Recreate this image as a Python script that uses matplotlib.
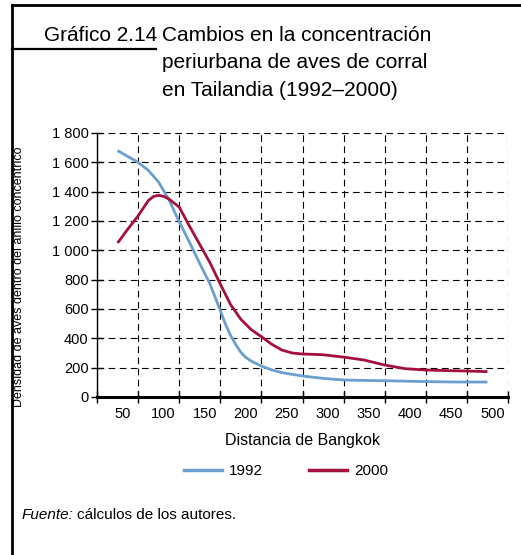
import matplotlib
matplotlib.use('Agg')
import matplotlib.pyplot as plt
from matplotlib.lines import Line2D
from matplotlib.transforms import ScaledTranslation

plt.rcParams['font.family'] = ['Liberation Sans', 'DejaVu Sans']

# distancia de Bangkok (km) y densidad de aves
dist_1992 = [50, 62.5, 75, 87.5, 100, 112.5, 125, 137.5, 150, 162.5, 175, 181, 187.5,
             194, 200, 206, 212.5, 225, 237.5, 250, 275, 300, 325, 350, 375, 400,
             425, 450, 475, 500]
dens_1992 = [1680, 1640, 1600, 1545, 1465, 1345, 1195, 1055, 910, 770, 590, 500, 420,
             355, 305, 270, 245, 211, 185, 166, 143, 127, 116, 113, 111, 108,
             105, 103, 102, 102]

dist_2000 = [50, 62.5, 75, 87.5, 94, 100, 106, 112.5, 125, 137.5, 150, 162.5, 175,
             187.5, 200, 212.5, 225, 237.5, 250, 262.5, 275, 287.5, 300, 325, 350,
             375, 400, 425, 450, 475, 500]
dens_2000 = [1050, 1145, 1235, 1340, 1368, 1375, 1368, 1350, 1295, 1165, 1040, 915, 770,
             630, 530, 460, 411, 360, 320, 300, 293, 291, 288, 272, 252,
             218, 193, 184, 180, 177, 173]

categorias = [50, 100, 150, 200, 250, 300, 350, 400, 450, 500]
y_ticks = [0, 200, 400, 600, 800, 1000, 1200, 1400, 1600, 1800]
y_labels = ['0', '200', '400', '600', '800', '1 000', '1 200', '1 400', '1 600', '1 800']

azul = '#6b9fd0'
rojo = '#a50f3c'

fig = plt.figure(figsize=(5.21, 5.55), dpi=100)
ax = fig.add_axes([97 / 521, 1 - 397 / 555, 411 / 521, 264 / 555])

ax.plot(dist_1992, dens_1992, color=azul, lw=2.0, solid_capstyle='butt',
        solid_joinstyle='round', zorder=3)
ax.plot(dist_2000, dens_2000, color=rojo, lw=2.0, solid_capstyle='butt',
        solid_joinstyle='round', zorder=3)

ax.set_xlim(25, 525)
ax.set_ylim(0, 1800)

# eje de categorias: marcas en los limites, etiquetas en el centro
bordes = [c - 25 for c in categorias] + [categorias[-1] + 25]
ax.set_xticks(bordes)
ax.set_xticklabels([])
ax.set_xticks(categorias, minor=True)
ax.set_xticklabels([str(c) for c in categorias], minor=True, fontsize=10.5)
ax.tick_params(axis='x', which='major', direction='inout', length=8, width=1, color='black')
ax.tick_params(axis='x', which='minor', length=0, pad=7)
off = ScaledTranslation(5 / 100, 0, fig.dpi_scale_trans)
for lab in ax.get_xticklabels(minor=True):
    lab.set_transform(lab.get_transform() + off)

ax.set_yticks(y_ticks)
ax.set_yticklabels(y_labels, fontsize=10.5)
ax.tick_params(axis='y', direction='inout', length=8, width=1, color='black', pad=2)

ax.grid(True, which='major', color='black', linestyle=(0, (6, 4)), linewidth=0.8)
ax.set_axisbelow(True)

ax.spines['top'].set_visible(False)
ax.spines['right'].set_visible(False)
ax.spines['bottom'].set_linewidth(2.2)
ax.spines['left'].set_linewidth(1.0)
ax.spines['bottom'].set_zorder(4)

ax.set_xlabel('Distancia de Bangkok', fontsize=11.5, labelpad=9)
fig.text(19 / 521, 1 - 277 / 555, 'Densidad de aves dentro del anillo concéntrico',
         rotation=90, ha='center', va='center', fontsize=9)

# titulo
fig.text(44 / 521, 1 - 41 / 555, 'Gráfico 2.14', fontsize=15, va='baseline')
titulo = ['Cambios en la concentración', 'periurbana de aves de corral',
          'en Tailandia (1992–2000)']
for i, t in enumerate(titulo):
    fig.text(162 / 521, 1 - (41 + 27.5 * i) / 555, t, fontsize=15, va='baseline')

# marco
fig.add_artist(Line2D([12 / 521, 12 / 521], [0, 1 - 5 / 555], color='black', lw=2))
fig.add_artist(Line2D([12 / 521, 1], [1 - 5 / 555, 1 - 5 / 555], color='black', lw=2))
fig.add_artist(Line2D([12 / 521, 156 / 521], [1 - 49 / 555, 1 - 49 / 555], color='black', lw=1.6))

# leyenda
h1 = Line2D([], [], color=azul, lw=2.5)
h2 = Line2D([], [], color=rojo, lw=2.5)
fig.legend([h1, h2], ['1992', '2000'], loc='center', bbox_to_anchor=(286 / 521, 1 - 471 / 555),
           ncol=2, frameon=False, fontsize=11, handlelength=2.5, handletextpad=0.45,
           columnspacing=3.0)

# fuente
t1 = fig.text(22 / 521, 1 - 515 / 555, 'Fuente:', fontsize=11, style='italic', va='center')
fig.canvas.draw()
bb = t1.get_window_extent()
fig.text((bb.x1 + 3) / fig.bbox.width, 1 - 515 / 555, 'cálculos de los autores.',
         fontsize=11, va='center')

fig.savefig('out.png', dpi=100)
